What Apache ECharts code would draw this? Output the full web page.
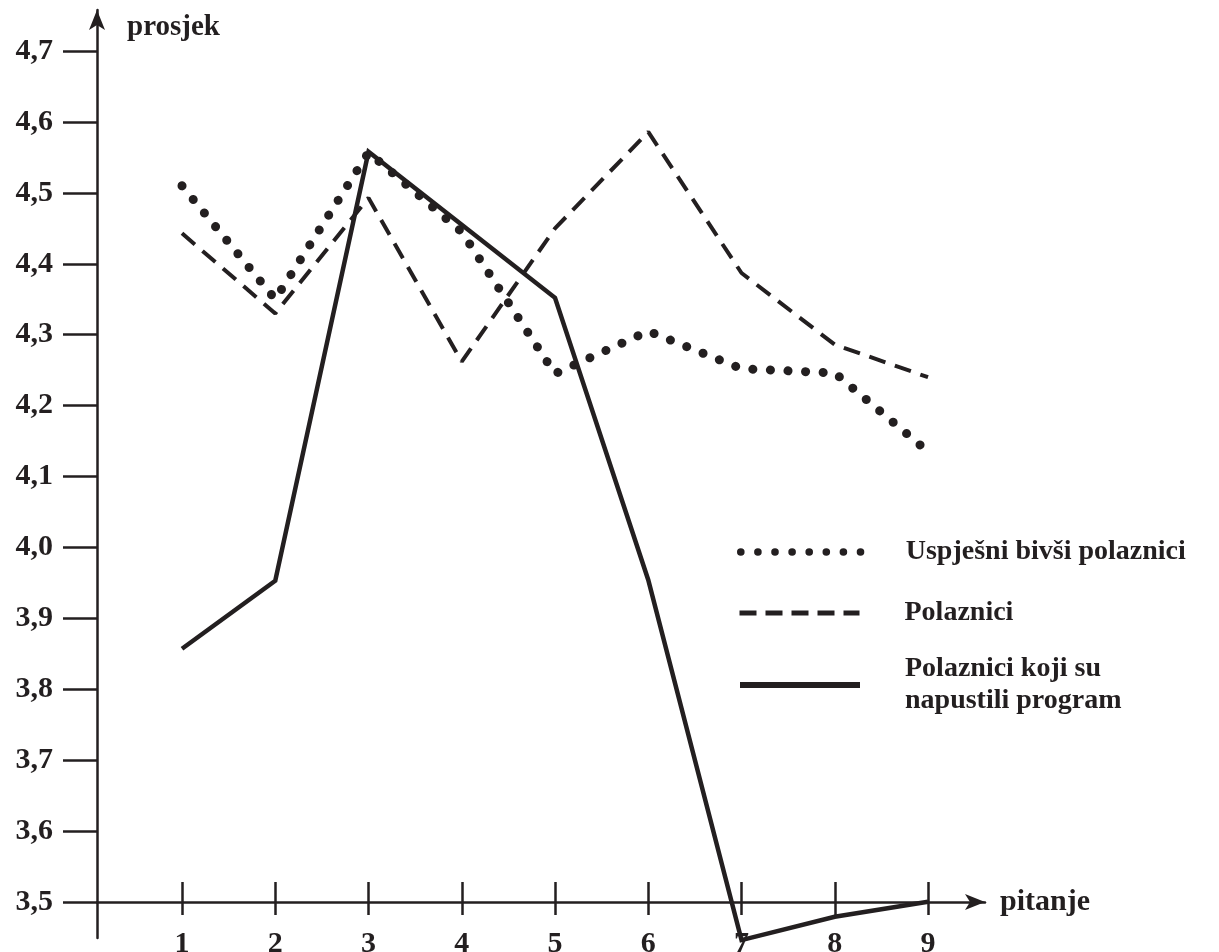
<!DOCTYPE html>
<html>
<head>
<meta charset="utf-8">
<script src="https://cdn.jsdelivr.net/npm/echarts@6/dist/echarts.min.js"></script>
<style>
  html, body { margin:0; padding:0; background:#fff; }
  #chart { width:1219px; height:952px; }
</style>
</head>
<body>
<div id="chart"></div>
<script>
// ---- data ----
const categories = [1, 2, 3, 4, 5, 6, 7, 8, 9];
const yTicks = [3.5, 3.6, 3.7, 3.8, 3.9, 4.0, 4.1, 4.2, 4.3, 4.4, 4.5, 4.6, 4.7];
const seriesNames = ['Uspješni bivši polaznici', 'Polaznici', 'Polaznici koji su\nnapustili program'];
const uspjesni  = [4.51, 4.35, 4.557, 4.445, 4.245, 4.305, 4.252, 4.246, 4.135];
const polaznici = [4.443, 4.33, 4.493, 4.262, 4.45, 4.586, 4.387, 4.286, 4.24];
const napustili = [3.857, 3.953, 4.558, 4.455, 4.352, 3.954, 3.446, 3.479, 3.5];
const xAxisName = 'pitanje';
const yAxisName = 'prosjek';

// ---- styling ----
const ink = '#231f20';
const font = '"Liberation Serif", "DejaVu Serif", serif';
const pairs = arr => categories.map((c, i) => [c, arr[i]]);

const xMin = 0.0885, xMax = 9.611;
const yMin = 3.449, yMax = 4.758;

const chart = echarts.init(document.getElementById('chart'), null, { renderer: 'canvas' });

const legendBase = {
  left: 737, itemWidth: 120, itemHeight: 14, orient: 'vertical', padding: 0,
  selectedMode: false,
  itemStyle: { opacity: 0, borderWidth: 0 },
  textStyle: { fontFamily: font, fontWeight: 'bold', fontSize: 28, color: ink, lineHeight: 32, padding: [0, 0, 0, 40] }
};

const option = {
  animation: false,
  backgroundColor: '#fff',
  grid: { left: 97, right: 234, top: 10, bottom: 14, containLabel: false, outerBoundsMode: 'none' },
  xAxis: [{
    type: 'value', min: xMin, max: xMax, position: 'bottom', offset: -36,
    name: xAxisName, nameLocation: 'end', nameGap: 15,
    nameTextStyle: { fontFamily: font, fontWeight: 'bold', fontSize: 30, color: ink, align: 'left', verticalAlign: 'middle' },
    axisLine: { show: true, onZero: false, symbol: ['none', 'arrow'], symbolSize: [12, 20], lineStyle: { color: ink, width: 2.5 } },
    axisTick: { show: true, inside: true, length: 20, customValues: categories, lineStyle: { color: ink, width: 2.5 } },
    axisLabel: { customValues: categories, margin: 27, fontFamily: font, fontWeight: 'bold', fontSize: 30, color: ink },
    splitLine: { show: false }
  }, {
    type: 'value', min: xMin, max: xMax, position: 'bottom', offset: -36,
    axisLine: { show: false, onZero: false },
    axisTick: { show: true, inside: false, length: 13, customValues: categories, lineStyle: { color: ink, width: 2.5 } },
    axisLabel: { show: false },
    splitLine: { show: false }
  }],
  yAxis: {
    type: 'value', min: yMin, max: yMax,
    name: yAxisName, nameLocation: 'end', nameGap: -18,
    nameTextStyle: { fontFamily: font, fontWeight: 'bold', fontSize: 29, color: ink, align: 'left', verticalAlign: 'middle', padding: [0, 0, 0, 30] },
    axisLine: { show: true, onZero: false, symbol: ['none', 'arrow'], symbolSize: [12, 20], lineStyle: { color: ink, width: 2.5 } },
    axisTick: { show: true, inside: false, length: 34, customValues: yTicks, lineStyle: { color: ink, width: 2.5 } },
    axisLabel: {
      customValues: yTicks, margin: 44, fontFamily: font, fontWeight: 'bold', fontSize: 30, color: ink,
      formatter: v => v.toFixed(1).replace('.', ',')
    },
    splitLine: { show: false }
  },
  legend: [
    Object.assign({}, legendBase, { data: [seriesNames[0]], top: 536, lineStyle: { width: 7.5, type: [0.1, 17], cap: 'round', color: ink } }),
    Object.assign({}, legendBase, { data: [seriesNames[1]], top: 597, lineStyle: { width: 5, type: [17, 9], cap: 'butt', color: ink } }),
    Object.assign({}, legendBase, { data: [seriesNames[2]], top: 653, lineStyle: { width: 6, type: 'solid', color: ink } })
  ],
  series: [{
    name: seriesNames[0], type: 'line', data: pairs(uspjesni), symbol: 'none', clip: false,
    lineStyle: { color: ink, width: 9, type: [0.1, 17.5], cap: 'round', join: 'round' }, itemStyle: { color: ink }
  }, {
    name: seriesNames[1], type: 'line', data: pairs(polaznici), symbol: 'none', clip: false,
    lineStyle: { color: ink, width: 4, type: [17, 10], cap: 'butt' }, itemStyle: { color: ink }
  }, {
    name: seriesNames[2], type: 'line', data: pairs(napustili), symbol: 'none', clip: false,
    lineStyle: { color: ink, width: 4.5, type: 'solid', join: 'miter' }, itemStyle: { color: ink }
  }]
};
chart.setOption(option);
</script>
</body>
</html>
